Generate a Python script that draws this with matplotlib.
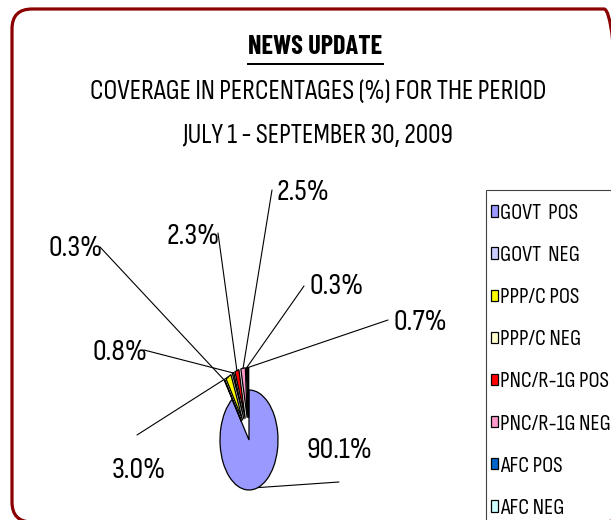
import matplotlib
matplotlib.use("Agg")
import matplotlib.pyplot as plt
import numpy as np
from matplotlib.patches import FancyBboxPatch, Rectangle
from matplotlib.transforms import IdentityTransform

plt.rcParams['font.family'] = ['Sofia Sans Condensed', 'DejaVu Sans']

categories = ['GOVT  POS', 'GOVT  NEG', 'PPP/C POS', 'PPP/C NEG',
              'PNC/R-1G POS', 'PNC/R-1G NEG', 'AFC POS', 'AFC NEG']
values = [90.1, 0.3, 3.0, 0.8, 2.3, 2.5, 0.3, 0.7]
colors = ['#9999FF', '#CCCCFF', '#FFFF00', '#FFFFCC',
          '#FF0000', '#FF99CC', '#0066CC', '#CCFFFF']
explode = [0.0, 0.45, 0.45, 0.45, 0.45, 0.45, 0.45, 0.45]
pct_labels = [f"{v:.1f}%" for v in values]

W, H = 611, 520
fig = plt.figure(figsize=(W / 100, H / 100), dpi=100)
fig.patch.set_facecolor('white')

# pie axes spanning the figure; 1 data unit = 29 px in x, 50 px in y
cx, cy_top, rx, ry = 249, 440, 29, 50
ax = fig.add_axes([0, 0, 1, 1])
wedges, _ = ax.pie(values, colors=colors, explode=explode, startangle=90,
                   counterclock=False,
                   wedgeprops=dict(edgecolor='black', linewidth=0.9))
ax.set_aspect('auto')
ax.set_xlim(-cx / rx, (W - cx) / rx)
ax.set_ylim(-(H - cy_top) / ry, cy_top / ry)
ax.axis('off')

# label layout (figure pixels from top-left): text anchor, ha, line start
label_layout = [
    ((307, 450), 'left', (339, 482)),    # 90.1
    ((48, 248), 'left', (100, 247)),     # 0.3 left
    ((112, 470), 'left', (137, 435)),    # 3.0
    ((92, 353), 'left', (144, 350)),     # 0.8
    ((166, 237), 'left', (218, 233)),    # 2.3
    ((277, 193), 'left', (272, 190)),    # 2.5
    ((309, 287), 'left', (304, 286)),    # 0.3 right
    ((393, 322), 'left', (388, 320)),    # 0.7
]

for w, txt, (tpos, ha, lstart) in zip(wedges, pct_labels, label_layout):
    mid = np.deg2rad((w.theta1 + w.theta2) / 2)
    cxw, cyw = w.center
    px = cxw + w.r * np.cos(mid)
    py = cyw + w.r * np.sin(mid)
    ax.annotate('', xy=(px, py), xycoords='data',
                xytext=(lstart[0], H - lstart[1]), textcoords='figure pixels',
                arrowprops=dict(arrowstyle='-', color='black', lw=0.8,
                                shrinkA=0, shrinkB=0))
    fig.text(tpos[0] / W, 1 - tpos[1] / H, txt, ha=ha, va='center',
             fontsize=22, color='black')

# titles
fig.text(315 / W, 1 - 47 / H, 'NEWS UPDATE', ha='center', va='center',
         fontsize=19, fontweight='bold',
         family=['Barlow Condensed', 'DejaVu Sans'])
fig.add_artist(Rectangle((247, H - 65), 137, 2.5, transform=IdentityTransform(),
                         facecolor='black', edgecolor='none'))
fig.text(318 / W, 1 - 92 / H, 'COVERAGE IN PERCENTAGES (%) FOR THE PERIOD',
         ha='center', va='center', fontsize=20)
fig.text(318 / W, 1 - 136 / H, 'JULY 1 - SEPTEMBER 30, 2009',
         ha='center', va='center', fontsize=20)

# legend frame (extends past the right and bottom edges)
fig.add_artist(Rectangle((486, -5), 200, H - 190 + 5, transform=IdentityTransform(),
                         facecolor='white', edgecolor='#444444', linewidth=0.8,
                         zorder=0.5))

leg = fig.legend(wedges, categories, loc='upper left',
                 bbox_to_anchor=(491 / W, 1 - 204 / H), fontsize=16,
                 frameon=False, handlelength=0.32, handleheight=0.42,
                 handletextpad=0.1, labelspacing=1.04, borderpad=0,
                 borderaxespad=0)

# outer rounded border
border = FancyBboxPatch((12, -2), 612, 513, boxstyle='round,pad=0,rounding_size=20',
                        transform=IdentityTransform(), facecolor='none',
                        edgecolor='#8B0000', linewidth=2.3)
fig.add_artist(border)

fig.savefig('out.png', dpi=100)
